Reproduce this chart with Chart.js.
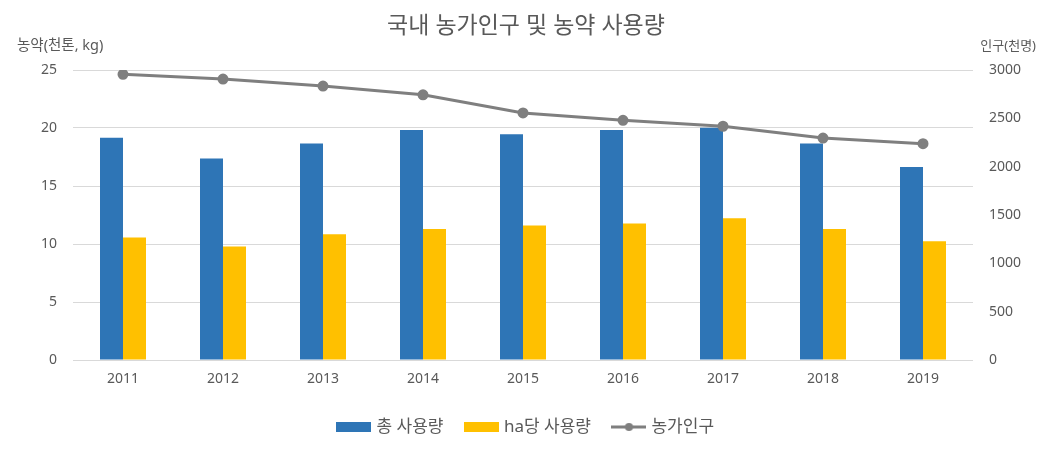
<!DOCTYPE html>
<html>
<head>
<meta charset="utf-8">
<script src="https://cdn.jsdelivr.net/npm/chart.js@4"></script>
<style>
  html, body { margin: 0; padding: 0; background: #fff; }
  #wrap { width: 1041px; height: 450px; }
</style>
</head>
<body>
<div id="wrap"><canvas id="chart" width="1041" height="450"></canvas></div>
<script>
// chart data
const years = ["2011", "2012", "2013", "2014", "2015", "2016", "2017", "2018", "2019"];
const totalUse = [19.15, 17.36, 18.66, 19.82, 19.47, 19.82, 20.02, 18.66, 16.64];   // 총 사용량 (천톤)
const perHaUse = [10.57, 9.79, 10.83, 11.3, 11.59, 11.76, 12.22, 11.3, 10.23];     // ha당 사용량 (kg)
const farmPop = [2955, 2906, 2834, 2743, 2556, 2480, 2418, 2296, 2238];            // 농가인구 (천명)

const seriesNames = ["총 사용량", "ha당 사용량", "농가인구"];
const chartTitle = "국내 농가인구 및 농약 사용량";
const leftTitle = "농약(천톤, kg)";
const rightTitle = "인구(천명)";

const FONT = "'Noto Sans', 'Noto Sans CJK KR', sans-serif";
const TEXT = "#595959";
const BLUE = "#2E75B6";
const GOLD = "#FFC000";
const GRAY = "#7F7F7F";

// small canvases used as legend icons (box, box, line with dot)
function makeIcon(draw) {
  const c = document.createElement("canvas");
  c.width = 35; c.height = 10;
  draw(c.getContext("2d"));
  return c;
}
const legendIcons = [
  makeIcon(g => { g.fillStyle = BLUE; g.fillRect(0, 0, 35, 10); }),
  makeIcon(g => { g.fillStyle = GOLD; g.fillRect(0, 0, 35, 10); }),
  makeIcon(g => {
    g.strokeStyle = GRAY; g.lineWidth = 3;
    g.beginPath(); g.moveTo(0, 5); g.lineTo(35, 5); g.stroke();
    g.fillStyle = GRAY; g.beginPath(); g.arc(17.5, 5, 4, 0, Math.PI * 2); g.fill();
  })
];

// title and the two horizontal axis titles
const textPlugin = {
  id: "texts",
  afterDraw(chart) {
    const ctx = chart.ctx;
    const area = chart.chartArea;
    ctx.save();
    ctx.fillStyle = TEXT;
    ctx.textBaseline = "middle";
    ctx.font = "23px " + FONT;
    ctx.textAlign = "center";
    ctx.fillText(chartTitle, 526, 26);
    ctx.font = "14.5px " + FONT;
    ctx.textAlign = "left";
    ctx.fillText(leftTitle, 17, area.top - 24);
    ctx.font = "13px " + FONT;
    ctx.textAlign = "right";
    ctx.fillText(rightTitle, 1036, area.top - 24);
    ctx.restore();
  }
};

new Chart(document.getElementById("chart"), {
  data: {
    labels: years,
    datasets: [
      { type: "bar", label: seriesNames[0], data: totalUse, backgroundColor: BLUE, yAxisID: "y", order: 1,
        categoryPercentage: 0.46, barPercentage: 1 },
      { type: "bar", label: seriesNames[1], data: perHaUse, backgroundColor: GOLD, yAxisID: "y", order: 1,
        categoryPercentage: 0.46, barPercentage: 1 },
      { type: "line", label: seriesNames[2], data: farmPop, yAxisID: "y1", order: 0,
        borderColor: GRAY, borderWidth: 3, pointRadius: 4, pointBackgroundColor: GRAY,
        pointBorderColor: GRAY, tension: 0 }
    ]
  },
  options: {
    responsive: false,
    animation: false,
    // left padding only nudges the centred legend; the y axis width makes up for it
    layout: { padding: { top: 70, left: 13, right: 0, bottom: 4.5 } },
    plugins: {
      title: { display: false },
      tooltip: { enabled: false },
      legend: {
        position: "bottom",
        labels: {
          usePointStyle: true,
          pointStyleWidth: 28,
          boxHeight: 10,
          padding: 24,
          color: TEXT,
          font: { family: FONT, size: 17 },
          generateLabels: chart => chart.data.datasets.map((ds, i) => ({
            text: ds.label,
            pointStyle: legendIcons[i],
            fontColor: TEXT,
            hidden: !chart.isDatasetVisible(i),
            datasetIndex: i,
            lineWidth: 0
          }))
        }
      }
    },
    scales: {
      x: {
        grid: { display: false, drawTicks: false },
        border: { display: false },
        ticks: { color: TEXT, font: { family: FONT, size: 14 }, padding: 11 },
        afterFit: s => { s.height = 34.5; }
      },
      y: {
        position: "left",
        min: 0, max: 25,
        ticks: { stepSize: 5, color: TEXT, font: { family: FONT, size: 14 }, padding: 16 },
        grid: { color: "#D9D9D9", drawTicks: false },
        border: { display: false },
        afterFit: s => { s.width = 60; }
      },
      y1: {
        position: "right",
        min: 0, max: 3000,
        ticks: { stepSize: 500, color: TEXT, font: { family: FONT, size: 14 }, padding: 16,
          callback: v => String(v) },
        grid: { display: false, drawTicks: false },
        border: { display: false },
        afterFit: s => { s.width = 68; }
      }
    }
  },
  plugins: [textPlugin]
});
</script>
</body>
</html>
